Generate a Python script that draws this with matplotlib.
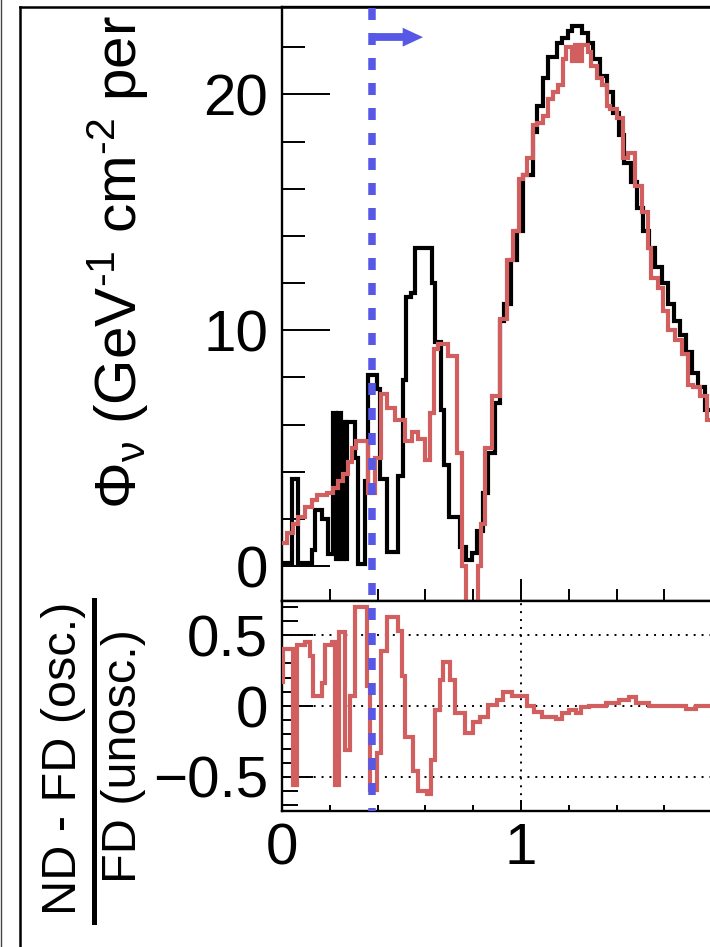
import matplotlib
matplotlib.use("Agg")
import matplotlib.pyplot as plt
from matplotlib.ticker import MultipleLocator, FuncFormatter
from matplotlib.transforms import blended_transform_factory
from matplotlib.lines import Line2D
from matplotlib.patches import Polygon

# ---------------- data ----------------
black_edges = [0.0, 0.042, 0.067, 0.126, 0.138, 0.167, 0.192, 0.213, 0.226, 0.234,
               0.247, 0.255, 0.268, 0.272, 0.305, 0.318, 0.347, 0.36, 0.397, 0.41,
               0.44, 0.485, 0.506, 0.52, 0.54, 0.556, 0.628, 0.64, 0.665, 0.678,
               0.70, 0.745, 0.77, 0.795, 0.815, 0.84, 0.862, 0.89, 0.912, 0.93,
               0.96, 0.983, 1.008, 1.05, 1.067, 1.092, 1.113, 1.15, 1.172, 1.197,
               1.213, 1.255, 1.28, 1.30, 1.33, 1.36, 1.385, 1.41, 1.43, 1.46,
               1.485, 1.51, 1.535, 1.56, 1.59, 1.615, 1.64, 1.665, 1.69, 1.715,
               1.74, 1.77, 1.8, 1.85]
black_vals = [0.15, 3.7, 0.15, 0.7, 2.4, 2.0, 0.5, 6.5, 0.3, 6.5,
              0.3, 6.1, 0.3, 6.1, 4.6, 0.1, 3.6, 8.1, 7.5, 3.7,
              0.6, 3.8, 7.9, 11.4, 11.6, 13.5, 12.0, 9.5, 6.6, 4.3,
              2.1, 0.8, 0.25, 0.55, 1.5, 3.1, 4.8, 6.9, 10.4, 11.1,
              13.0, 14.2, 16.6, 18.4, 19.5, 20.7, 21.6, 22.2, 22.4, 22.7,
              22.9, 22.6, 22.2, 21.5, 20.8, 20.1, 19.2, 18.3, 17.1, 16.3,
              15.2, 14.2, 13.5, 12.7, 12.0, 11.1, 10.4, 9.8, 9.1, 8.2,
              7.6, 6.6, 6.0]

red_edges = [0.0, 0.021, 0.046, 0.067, 0.096, 0.126, 0.146, 0.188, 0.213, 0.234,
             0.255, 0.276, 0.293, 0.31, 0.36, 0.39, 0.414, 0.44, 0.473, 0.515,
             0.544, 0.569, 0.598, 0.619, 0.636, 0.653, 0.695, 0.732, 0.753, 0.77,
             0.82, 0.833, 0.849, 0.879, 0.912, 0.941, 0.967, 0.992, 1.008, 1.025,
             1.05, 1.067, 1.092, 1.113, 1.134, 1.155, 1.176, 1.188, 1.213, 1.226,
             1.238, 1.255, 1.28, 1.293, 1.318, 1.339, 1.36, 1.372, 1.402, 1.427,
             1.448, 1.477, 1.506, 1.531, 1.544, 1.573, 1.594, 1.615, 1.644, 1.674,
             1.699, 1.72, 1.749, 1.778, 1.8, 1.85]
red_vals = [1.0, 1.4, 1.8, 2.1, 2.5, 2.8, 3.0, 3.1, 3.3, 3.6,
            3.9, 4.4, 5.0, 5.3, 3.1, 4.6, 7.3, 6.7, 6.2, 5.3,
            5.7, 5.4, 4.5, 6.5, 9.2, 9.4, 8.9, 4.8, 0.0, -3.0,
            0.0, 1.8, 5.0, 7.2, 10.5, 13.0, 14.2, 16.4, 16.6, 17.3,
            18.7, 18.8, 19.1, 19.8, 20.1, 20.4, 21.5, 22.0, 21.4, 22.1,
            21.4, 22.1, 21.8, 21.2, 20.7, 20.4, 19.5, 19.4, 19.0, 17.3,
            17.5, 16.1, 15.0, 13.5, 12.2, 11.8, 10.8, 10.0, 9.6, 9.0,
            7.7, 7.6, 7.2, 6.2, 5.8]

ratio_edges = [0.0, 0.004, 0.046, 0.063, 0.096, 0.117, 0.13, 0.167, 0.18, 0.21,
               0.222, 0.238, 0.263, 0.285, 0.305, 0.356, 0.368, 0.397, 0.414, 0.44,
               0.485, 0.50, 0.515, 0.548, 0.569, 0.607, 0.623, 0.64, 0.661, 0.674,
               0.703, 0.724, 0.766, 0.799, 0.828, 0.862, 0.90, 0.925, 0.962, 1.025,
               1.054, 1.088, 1.146, 1.172, 1.20, 1.23, 1.25, 1.285, 1.356, 1.41,
               1.452, 1.482, 1.536, 1.69, 1.732, 1.85]
ratio_vals = [0.17, 0.40, -0.56, 0.43, 0.45, 0.35, 0.07, 0.16, 0.43, 0.45,
              -0.56, 0.52, -0.31, 0.07, 0.70, 0.14, -0.59, -0.33, 0.39, 0.63,
              0.53, 0.21, -0.22, -0.46, -0.60, -0.62, -0.38, -0.03, 0.18, 0.31,
              0.18, -0.05, -0.19, -0.11, -0.08, 0.01, 0.04, 0.10, 0.07, 0.0,
              -0.04, -0.08, -0.09, -0.05, -0.03, -0.05, -0.01, 0.0, 0.02, 0.04,
              0.06, 0.02, 0.0, -0.02, 0.0]

ratio_gridlines = [-0.5, 0.0, 0.5]
x_tick_labels = {0: "0", 1: "1"}
cut_energy = 0.377
arrow_y = 22.43
arrow_tip = 0.59

top_label = r"$\Phi_{\nu}$ (GeV$^{\text{-}1}$ cm$^{\text{-}2}$ per"
num_label = "ND - FD (osc.)"
den_label = "FD (unosc.)"

# ---------------- style ----------------
plt.rcParams['font.family'] = ['Liberation Sans', 'DejaVu Sans']
plt.rcParams['mathtext.fontset'] = 'custom'
plt.rcParams['mathtext.rm'] = 'Liberation Sans'
plt.rcParams['mathtext.it'] = 'Liberation Sans:italic'
plt.rcParams['mathtext.default'] = 'regular'
plt.rcParams['lines.scale_dashes'] = False

RED = '#d25f5f'
BLUE = '#5858e6'
W, H = 710, 947

def fx(px):
    return px / W

def fy(py):
    return 1 - py / H

fig = plt.figure(figsize=(W / 100, H / 100), dpi=100)

AX_L, AX_R = 282, 760
ax_top = fig.add_axes([fx(AX_L), fy(601), (AX_R - AX_L) / W, (601 - 7) / H])
ax_bot = fig.add_axes([fx(AX_L), fy(811), (AX_R - AX_L) / W, (811 - 601) / H])

for ax in (ax_top, ax_bot):
    ax.set_xlim(0, 2.0)
    for s in ax.spines.values():
        s.set_linewidth(1.7)
    ax.spines['right'].set_visible(False)
    ax.xaxis.set_major_locator(MultipleLocator(1))
    ax.xaxis.set_minor_locator(MultipleLocator(0.2))
    ax.tick_params(which='both', direction='in', top=False, right=False, width=1.4)

ax_top.set_ylim(-1.48, 23.71)
ax_bot.set_ylim(-0.74, 0.74)

# top panel ticks
ax_top.yaxis.set_major_locator(MultipleLocator(10))
ax_top.yaxis.set_minor_locator(MultipleLocator(2))
ax_top.tick_params(axis='y', which='major', length=34.6, labelsize=42, pad=10)
ax_top.tick_params(axis='y', which='minor', length=16.6)
ax_top.tick_params(axis='x', which='major', length=15.8, labelbottom=False)
ax_top.tick_params(axis='x', which='minor', length=8.6)

# bottom panel ticks
yfmt = FuncFormatter(lambda v, _: '0' if abs(v) < 1e-9 else ('%g' % v).replace('-', '\u2212'))
xfmt = FuncFormatter(lambda v, _: x_tick_labels.get(int(round(v)), ''))
ax_bot.yaxis.set_major_locator(MultipleLocator(0.5))
ax_bot.yaxis.set_minor_locator(MultipleLocator(0.1))
ax_bot.yaxis.set_major_formatter(yfmt)
ax_bot.xaxis.set_major_formatter(xfmt)
ax_bot.tick_params(axis='y', which='major', length=22, labelsize=42, pad=10)
ax_bot.tick_params(axis='y', which='minor', length=11.5)
ax_bot.tick_params(axis='x', which='major', length=8, labelsize=42, pad=8)
ax_bot.tick_params(axis='x', which='minor', length=4.3)

# histograms
ax_top.stairs(black_vals, black_edges, baseline=None, color='black', lw=3.0, zorder=3)
ax_top.stairs(red_vals, red_edges, baseline=None, color=RED, lw=3.0, zorder=4)

# ratio panel grid + histogram
for g in ratio_gridlines:
    ax_bot.axhline(g, color='black', lw=1.4, linestyle=(0, (1.4, 4.3)), zorder=1)
ax_bot.axvline(1.0, color='black', lw=1.4, linestyle=(0, (1.4, 4.3)), zorder=1)
ax_bot.stairs(ratio_vals, ratio_edges, baseline=None, color=RED, lw=3.0, zorder=4)

# blue dashed cut line spanning both panels
tr = blended_transform_factory(ax_top.transData, fig.transFigure)
fig.add_artist(Line2D([cut_energy, cut_energy], [fy(8), fy(811)], transform=tr,
                      color=BLUE, lw=5.4, linestyle=(0, (8.64, 9.36)),
                      dash_capstyle='butt', zorder=10))
# arrow
ax_top.plot([cut_energy, 0.51], [arrow_y, arrow_y], color=BLUE, lw=5.6,
            solid_capstyle='butt', zorder=10, clip_on=False)
ax_top.add_patch(Polygon([(0.505, arrow_y + 0.40), (arrow_tip, arrow_y), (0.505, arrow_y - 0.40)],
                         closed=True, facecolor=BLUE, edgecolor='none', zorder=10, clip_on=False))

# axis titles
fig.text(fx(118), fy(15), top_label, rotation=90, ha='center', va='top', fontsize=42)
fig.text(fx(63), fy(758), num_label, rotation=90, ha='center', va='center', fontsize=35)
fig.text(fx(124), fy(756), den_label, rotation=90, ha='center', va='center', fontsize=35)
fig.add_artist(Line2D([fx(94), fx(94)], [fy(600), fy(922)], transform=fig.transFigure,
                      color='black', lw=3.6))

# frame lines
fig.add_artist(Line2D([fx(1), fx(1)], [0, 1], transform=fig.transFigure, color='#444444', lw=1.0))
fig.add_artist(Line2D([fx(19.5), fx(19.5)], [0, fy(7)], transform=fig.transFigure, color='black', lw=1.8,
                      solid_capstyle='projecting'))
fig.add_artist(Line2D([fx(19.5), 1.01], [fy(7), fy(7)], transform=fig.transFigure, color='black', lw=1.8,
                      solid_capstyle='projecting'))

fig.savefig('out.png', dpi=100)
